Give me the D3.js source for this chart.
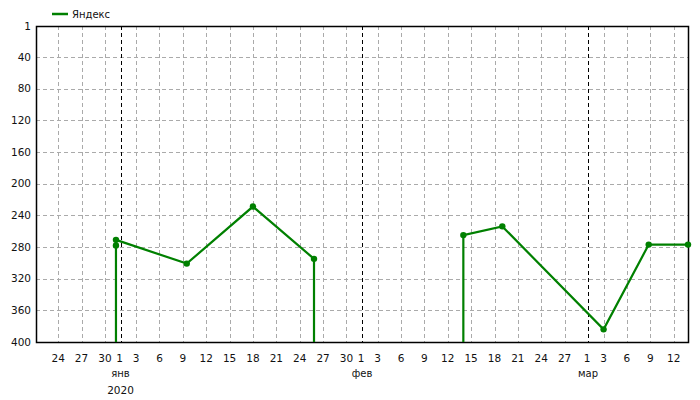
<!DOCTYPE html>
<html>
<head>
<meta charset="utf-8">
<script src="https://cdn.jsdelivr.net/npm/d3@7"></script>
<style>
  body { margin: 0; background: #fff; }
  text { font-family: "DejaVu Sans", Verdana, sans-serif; fill: #111; }
</style>
</head>
<body>
<div id="chart"></div>
<script>
// data: rank of the site per date (null = below 400, outside the chart)
var seriesName = "Яндекс";
var dates = [
  "2019-12-31T10:00", "2019-12-31T10:00", "2019-12-31T10:00", "2020-01-09T12:00",
  "2020-01-18T00:00", "2020-01-25T20:00", "2020-01-25T20:00", "2020-02-14T00:00",
  "2020-02-14T00:00", "2020-02-19T00:00", "2020-03-03T00:00", "2020-03-08T19:00",
  "2020-03-13T20:00"
];
var ranks = [null, 278, 271, 301, 229, 295, null, null, 265, 254, 384, 277, 277];
var yTicks = [1, 40, 80, 120, 160, 200, 240, 280, 320, 360, 400];
var monthNames = ["янв", "фев", "мар", "апр", "май", "июн", "июл", "авг", "сен", "окт", "ноя", "дек"];

var svgWidth = 700;
var svgHeight = 400;
var margin = { top: 26, right: 12, bottom: 58, left: 36 };
var width = svgWidth - margin.left - margin.right;
var height = svgHeight - margin.top - margin.bottom;

var parse = d3.timeParse("%Y-%m-%dT%H:%M");
var data = dates.map(function(d, i) {
  return { date: parse(d), rank: ranks[i] };
});

var svg = d3.select("#chart")
  .append("svg")
  .attr("width", svgWidth)
  .attr("height", svgHeight);

var chartGroup = svg.append("g")
  .attr("transform", `translate(${margin.left}, ${margin.top})`);

var xScale = d3.scaleTime()
  .domain([parse("2019-12-21T03:40"), data[data.length - 1].date])
  .range([0, width]);

var yScale = d3.scaleLinear()
  .domain([1, 400])
  .range([0, height]);

// ticks: 1st of month and every 3rd day
var xTicks = d3.timeDay.range(xScale.domain()[0], xScale.domain()[1])
  .filter(d => d.getDate() === 1 || d.getDate() % 3 === 0);

// horizontal grid
chartGroup.selectAll(".hgrid")
  .data(yTicks.slice(1, -1))
  .enter()
  .append("line")
  .attr("x1", 0)
  .attr("x2", width)
  .attr("y1", d => Math.round(yScale(d)) + 0.5)
  .attr("y2", d => Math.round(yScale(d)) + 0.5)
  .style("stroke", "#aaa")
  .style("stroke-dasharray", "4,3");

// vertical grid
chartGroup.selectAll(".vgrid")
  .data(xTicks)
  .enter()
  .append("line")
  .attr("x1", d => Math.round(xScale(d)) + 0.5)
  .attr("x2", d => Math.round(xScale(d)) + 0.5)
  .attr("y1", 0)
  .attr("y2", height)
  .style("stroke", d => d.getDate() === 1 ? "#000" : "#aaa")
  .style("stroke-dasharray", "4,3");

// frame
chartGroup.append("rect")
  .attr("x", 0.5)
  .attr("y", 0.5)
  .attr("width", width)
  .attr("height", height)
  .style("fill", "none")
  .style("stroke", "#000")
  .style("stroke-width", 1.5);

// y labels
chartGroup.selectAll(".ylab")
  .data(yTicks)
  .enter()
  .append("text")
  .attr("x", -5)
  .attr("y", d => yScale(d))
  .attr("dy", "0.35em")
  .style("text-anchor", "end")
  .style("font-size", "10.5px")
  .text(d => d);

// x labels
chartGroup.selectAll(".xlab")
  .data(xTicks)
  .enter()
  .append("text")
  .attr("x", d => xScale(d) + (d.getDate() === 1 ? -1 : 0))
  .attr("y", height + 20)
  .style("text-anchor", "middle")
  .style("font-size", "10.5px")
  .text(d => d.getDate());

chartGroup.selectAll(".mlab")
  .data(xTicks.filter(d => d.getDate() === 1))
  .enter()
  .append("text")
  .attr("x", d => xScale(d))
  .attr("y", height + 35)
  .style("text-anchor", "middle")
  .style("font-size", "10px")
  .text(d => monthNames[d.getMonth()]);

chartGroup.append("text")
  .attr("x", xScale(xTicks.find(d => d.getDate() === 1)))
  .attr("y", height + 52)
  .style("text-anchor", "middle")
  .style("font-size", "10.5px")
  .text(xTicks.find(d => d.getDate() === 1).getFullYear());

// series
chartGroup.append("clipPath")
  .attr("id", "plotClip")
  .append("rect")
  .attr("width", width + 1)
  .attr("height", height);

var line = d3.line()
  .x(d => xScale(d.date))
  .y(d => yScale(d.rank === null ? 1000 : d.rank));

chartGroup.append("path")
  .datum(data)
  .attr("clip-path", "url(#plotClip)")
  .attr("d", line)
  .style("fill", "none")
  .style("stroke", "#008000")
  .style("stroke-width", 2.2);

chartGroup.selectAll(".dot")
  .data(data.filter(d => d.rank !== null))
  .enter()
  .append("circle")
  .attr("cx", d => xScale(d.date))
  .attr("cy", d => yScale(d.rank))
  .attr("r", 3.2)
  .style("fill", "#008000");

// legend
var legend = svg.append("g");
legend.append("line")
  .attr("x1", 52)
  .attr("x2", 68)
  .attr("y1", 14)
  .attr("y2", 14)
  .style("stroke", "#008000")
  .style("stroke-width", 2.5);
legend.append("text")
  .attr("x", 72)
  .attr("y", 18)
  .style("font-size", "10px")
  .text(seriesName);
</script>
</body>
</html>
